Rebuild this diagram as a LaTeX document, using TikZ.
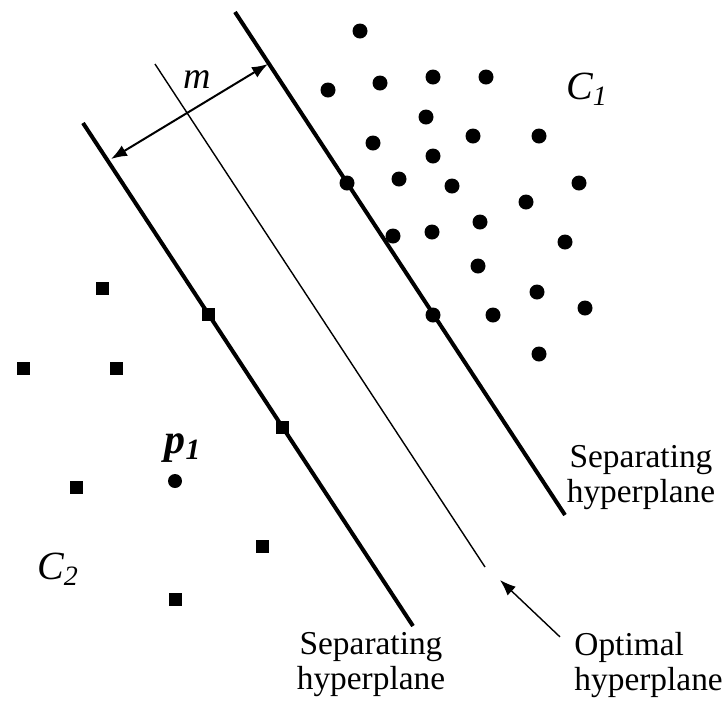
\documentclass[tikz,border=0pt]{standalone}
\usepackage{fontspec}
\setmainfont{Liberation Serif}
\usetikzlibrary{arrows.meta}
\tikzset{
  dot/.style={circle,fill,inner sep=0pt,minimum size=7.5pt},
  sq/.style={rectangle,fill,inner sep=0pt,minimum size=6.5pt},
  plane/.style={line width=2pt},
  lbl/.style={font=\fontsize{16.7}{17.5}\selectfont,inner sep=2pt},
}
\begin{document}
\begin{tikzpicture}[x=0.5pt,y=-0.5pt]
\useasboundingbox (0,0) rectangle (724,703);
% hyperplanes
\coordinate (r1) at (235,12);
\coordinate (r2) at (565,515);
\coordinate (l1) at (83,123);
\coordinate (l2) at (413,626);
\coordinate (o1) at (155,64);
\coordinate (o2) at (485,567);
\draw [plane] (r1) -- (r2);
\draw [plane] (l1) -- (l2);
\draw [line width=0.7pt] (o1) -- (o2);
% margin
\coordinate (ma) at (111,159);
\coordinate (mb) at (268,64);
\draw [{Latex[length=8pt,width=6pt]}-{Latex[length=8pt,width=6pt]},line width=1pt] (ma) -- (mb);
\node [lbl,font=\fontsize{19}{20}\selectfont\itshape] (m) at (197,80) {m};
% class C1
\foreach \x/\y [count=\i] in {360/31,328/90,380/83,433/77,486/77,426/117,373/143,473/136,539/136,433/156,347/183,399/179,452/186,526/202,579/183,480/222,393/236,432/232,565/242,478/266,537/292,585/308,493/315,433/315,539/354}
  \node [dot] (d\i) at (\x,\y) {};
% class C2
\foreach \x/\y [count=\i] in {102/288,208/314,23/368,116/368,282/427,76/487,262/546,175/599}
  \node [sq] (s\i) at (\x,\y) {};
\node [dot,minimum size=7pt] (p) at (175,481) {};
% labels
\node [lbl,font=\fontsize{20}{21}\selectfont\itshape] (c1) at (587,89) {C\textsubscript{1}};
\node [lbl,font=\fontsize{20}{21}\selectfont\itshape] (c2) at (58,569) {C\textsubscript{2}};
\node [lbl,font=\fontsize{21}{22}\selectfont\bfseries\itshape] (p1) at (183,448) {p\textsubscript{1}};
\node [lbl,align=center] (sepr) at (641,478) {Separating\\hyperplane};
\node [lbl,align=center] (sepl) at (371,665) {Separating\\hyperplane};
\node [lbl,align=left,anchor=west] (opt) at (570,665) {Optimal\\hyperplane};
\coordinate (otip) at (500,580);
\draw [-{Latex[length=8pt,width=6pt]},line width=0.7pt] ([shift={(-10,9)}]opt.north west) -- (otip);
\end{tikzpicture}
\end{document}
